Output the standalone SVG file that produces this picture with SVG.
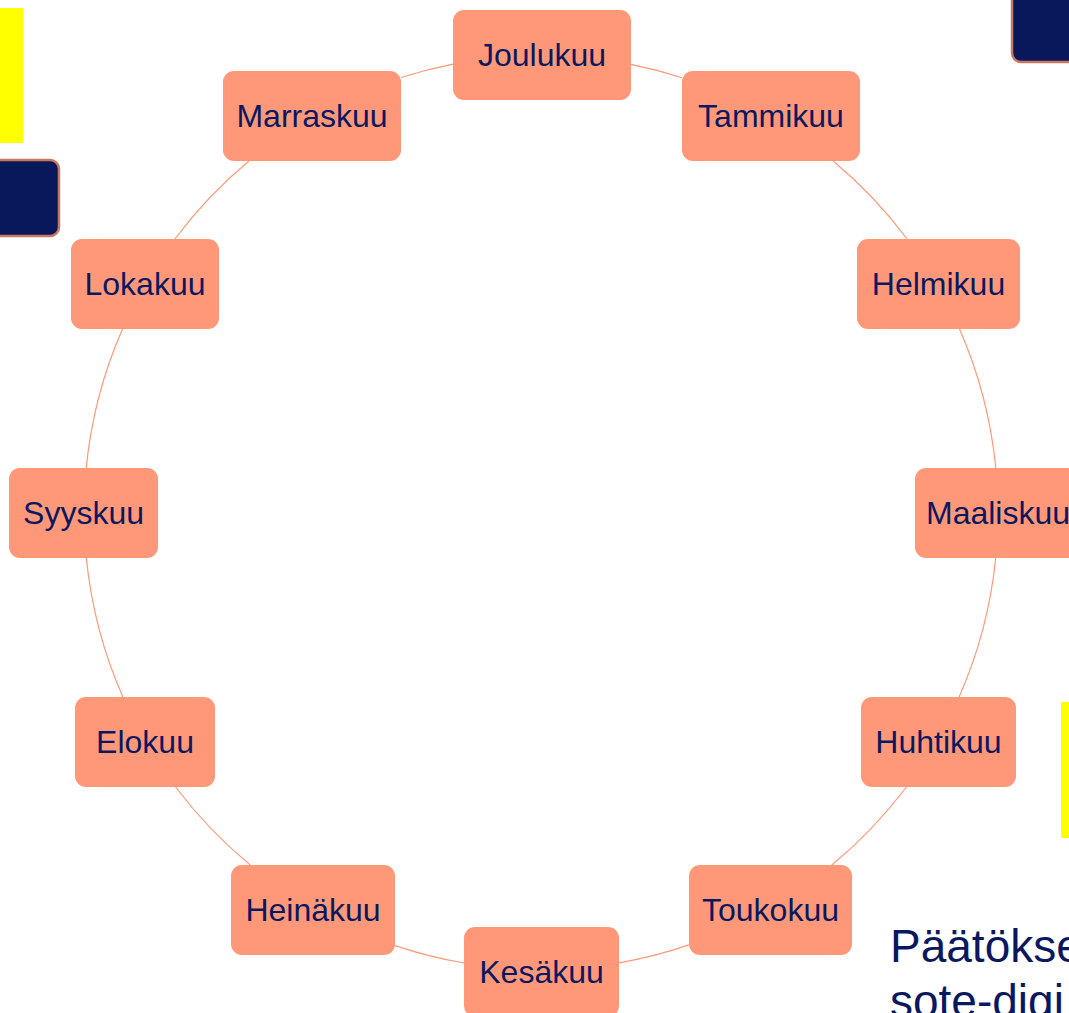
<svg xmlns="http://www.w3.org/2000/svg" width="1069" height="1013" viewBox="0 0 1069 1013">
<style>
.node rect{fill:#FF9878;}
.node text{font-family:"Liberation Sans",Arial,sans-serif;font-size:32px;fill:#0A1860;text-anchor:middle;}
.conn path{fill:none;stroke:#FF9878;stroke-width:1.2;}
.navy{fill:#08185A;stroke:#C87860;stroke-width:2.5;}
.yel{fill:#FFFF00;}
.big{font-family:"Liberation Sans",Arial,sans-serif;font-size:46px;fill:#0A1860;}
</style>
<rect class="yel" x="0" y="8" width="23" height="135"/>
<rect class="navy" x="-20" y="160" width="79" height="76" rx="9"/>
<rect class="navy" x="1012" y="-20" width="80" height="82" rx="9"/>
<rect class="yel" x="1061" y="702" width="10" height="136"/>
<text class="big" x="890" y="962">Päätökse</text>
<text class="big" x="890" y="1017">sote-digi</text>
<g id="connectors" class="conn">
<path d="M631 64.4A457 457 0 0 1 682 77.8"/>
<path d="M833.1 161A457 457 0 0 1 907.1 239"/>
<path d="M959.5 329A457 457 0 0 1 995.8 468"/>
<path d="M995.7 558A457 457 0 0 1 959.1 697"/>
<path d="M906.4 787A457 457 0 0 1 831.8 865"/>
<path d="M689 944.9A457 457 0 0 1 619 962.8"/>
<path d="M464 963A457 457 0 0 1 395 945.6"/>
<path d="M250.2 865A457 457 0 0 1 175.6 787"/>
<path d="M122.9 697A457 457 0 0 1 86.3 558"/>
<path d="M86.2 468A457 457 0 0 1 122.5 329"/>
<path d="M174.9 239A457 457 0 0 1 248.9 161"/>
<path d="M401 77.5A457 457 0 0 1 453 64.1"/>
</g>
<g id="joulukuu" class="node"><rect x="453" y="10" width="178" height="90" rx="11"/><text x="542" y="66">Joulukuu</text></g>
<g id="tammikuu" class="node"><rect x="682" y="71" width="178" height="90" rx="11"/><text x="771" y="127">Tammikuu</text></g>
<g id="helmikuu" class="node"><rect x="857" y="239" width="163" height="90" rx="11"/><text x="938.5" y="295">Helmikuu</text></g>
<g id="maaliskuu" class="node"><rect x="915" y="468" width="164" height="90" rx="11"/><text x="998" y="524">Maaliskuu</text></g>
<g id="huhtikuu" class="node"><rect x="861" y="697" width="155" height="90" rx="11"/><text x="938.5" y="753">Huhtikuu</text></g>
<g id="toukokuu" class="node"><rect x="689" y="865" width="163" height="90" rx="11"/><text x="770.5" y="921">Toukokuu</text></g>
<g id="kesakuu" class="node"><rect x="464" y="927" width="155" height="90" rx="11"/><text x="541.5" y="983">Kesäkuu</text></g>
<g id="heinakuu" class="node"><rect x="231" y="865" width="164" height="90" rx="11"/><text x="313" y="921">Heinäkuu</text></g>
<g id="elokuu" class="node"><rect x="75" y="697" width="140" height="90" rx="11"/><text x="145" y="753">Elokuu</text></g>
<g id="syyskuu" class="node"><rect x="9" y="468" width="149" height="90" rx="11"/><text x="83.5" y="524">Syyskuu</text></g>
<g id="lokakuu" class="node"><rect x="71" y="239" width="148" height="90" rx="11"/><text x="145" y="295">Lokakuu</text></g>
<g id="marraskuu" class="node"><rect x="223" y="71" width="178" height="90" rx="11"/><text x="312" y="127">Marraskuu</text></g>
</svg>
